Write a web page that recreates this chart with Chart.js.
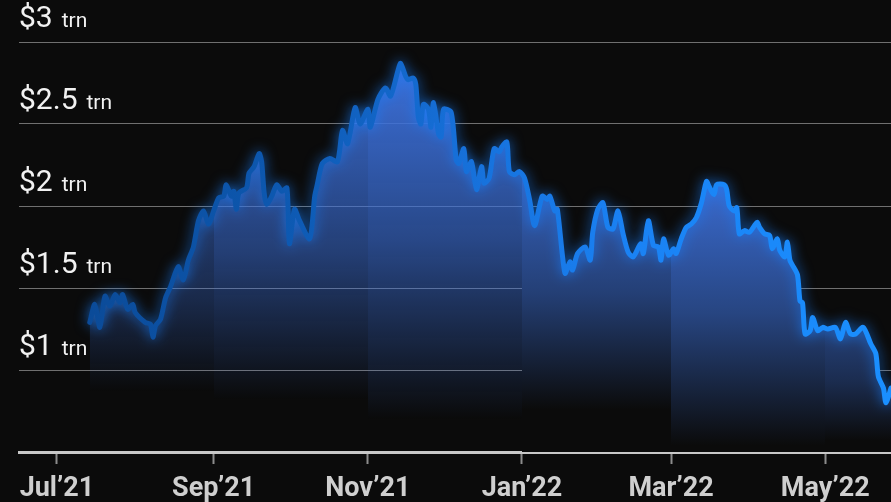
<!DOCTYPE html>
<html>
<head>
<meta charset="utf-8">
<script src="https://cdn.jsdelivr.net/npm/chart.js@4.4.1/dist/chart.umd.min.js"></script>
<style>
  html, body { margin: 0; padding: 0; background: #0b0b0b; }
  #wrap { width: 891px; height: 502px; }
</style>
</head>
<body>
<div id="wrap"><canvas id="cap-chart"></canvas></div>
<script>
"use strict";

// days since 1 Jul 2021
const days = [
  13, 15, 17, 19, 21, 23, 25, 26, 28, 30,
  31, 35, 37, 38, 39, 41, 43, 45, 48, 50,
  52, 54, 56, 58, 60, 62, 64, 66, 67, 69,
  70, 71, 72, 75, 76, 78, 80, 81, 82, 83,
  85, 87, 89, 91, 92, 94, 96, 100, 102, 103,
  105, 108, 111, 113, 115, 118, 120, 123, 124, 127,
  130, 132, 135, 136, 138, 139, 141, 142, 143, 144,
  145, 147, 148, 149, 151, 152, 153, 156, 158, 159,
  161, 162, 164, 166, 168, 169, 171, 173, 175, 176,
  178, 179, 181, 183, 185, 187, 189, 192, 194, 195,
  197, 198, 201, 203, 204, 206, 209, 211, 212, 214,
  216, 218, 220, 222, 224, 226, 228, 231, 232, 234,
  236, 238, 239, 240, 242, 244, 245, 247, 249, 251,
  253, 255, 257, 258, 260, 261, 264, 265, 266, 268,
  269, 270, 272, 274, 277, 278, 280, 282, 283, 285,
  286, 288, 289, 290, 291, 293, 294, 295, 296, 298,
  299, 301, 303, 305, 308, 310, 312, 314, 316, 319,
  322, 324, 325, 327, 328, 330
];

// total market cap, $ trillion
const marketCap = [
  1.29, 1.40, 1.26, 1.45, 1.39, 1.46, 1.41, 1.46, 1.37, 1.40,
  1.35, 1.29, 1.28, 1.20, 1.27, 1.31, 1.44, 1.51, 1.63, 1.55,
  1.67, 1.75, 1.91, 1.97, 1.89, 1.97, 2.05, 2.06, 2.13, 2.06,
  2.09, 1.98, 2.08, 2.11, 2.20, 2.24, 2.32, 2.27, 2.08, 2.01,
  2.06, 2.13, 2.09, 2.11, 1.77, 1.98, 1.91, 1.80, 2.06, 2.13,
  2.26, 2.29, 2.27, 2.46, 2.38, 2.60, 2.50, 2.59, 2.48, 2.65,
  2.72, 2.67, 2.83, 2.87, 2.79, 2.77, 2.78, 2.74, 2.54, 2.50,
  2.62, 2.59, 2.48, 2.63, 2.44, 2.42, 2.59, 2.57, 2.28, 2.26,
  2.35, 2.21, 2.27, 2.10, 2.24, 2.14, 2.17, 2.35, 2.33, 2.36,
  2.39, 2.21, 2.19, 2.21, 2.17, 2.04, 1.88, 2.06, 2.04, 2.06,
  1.97, 1.98, 1.59, 1.66, 1.61, 1.71, 1.75, 1.67, 1.84, 1.98,
  2.02, 1.87, 1.86, 1.97, 1.83, 1.72, 1.69, 1.77, 1.71, 1.91,
  1.76, 1.75, 1.67, 1.80, 1.70, 1.74, 1.71, 1.80, 1.87, 1.89,
  1.93, 2.02, 2.15, 2.12, 2.07, 2.13, 2.13, 2.10, 2.00, 1.97,
  1.99, 1.83, 1.85, 1.84, 1.90, 1.87, 1.83, 1.82, 1.74, 1.80,
  1.73, 1.69, 1.78, 1.67, 1.64, 1.58, 1.42, 1.41, 1.22, 1.24,
  1.32, 1.24, 1.26, 1.25, 1.26, 1.19, 1.29, 1.22, 1.22, 1.26,
  1.16, 1.10, 0.96, 0.89, 0.80, 0.89
];

const monthTicks = [0, 62, 123, 184, 243, 304];
const monthLabels = ["Jul\u201921", "Sep\u201921", "Nov\u201921", "Jan\u201922", "Mar\u201922", "May\u201922"];

const xMin = -15, xMax = 330;
const yMin = 0.5, yMax = 3, yStep = 0.5;

// shading of each two-month band under the line
const bandLook = [
  { alpha: 0.50, fade: 0.87, solid: false },
  { alpha: 0.85, fade: 0.82, solid: false },
  { alpha: 1.00, fade: 0.70, solid: false },
  { alpha: 0.85, fade: 0.76, solid: true },
  { alpha: 0.95, fade: 0.54, solid: true },
  { alpha: 0.55, fade: 0.57, solid: true }
];
const blue = [60, 112, 218];
const bg = [11, 11, 11];
const labelFont = "Roboto";
const labelOffset = -23;

function shade(a, solid) {
  if (!solid) return "rgba(" + blue.join(",") + "," + a + ")";
  const c = blue.map((v, i) => Math.round(bg[i] + (v - bg[i]) * a));
  return "rgb(" + c.join(",") + ")";
}

let fillCache = null;
function bandFill(chart) {
  const area = chart.chartArea;
  if (!area) return "transparent";
  const key = chart.width + "x" + chart.height + ":" + area.left + ":" + area.bottom;
  if (fillCache && fillCache.key === key) return fillCache.pattern;

  const xs = chart.scales.x, ys = chart.scales.y;
  const edges = [xMin].concat(monthTicks.slice(1), [xMax]);
  const off = document.createElement("canvas");
  off.width = chart.width;
  off.height = chart.height;
  const o = off.getContext("2d");

  bandLook.forEach((b, i) => {
    const from = edges[i], to = edges[i + 1];
    const inBand = marketCap.filter((v, k) => days[k] >= from && days[k] <= to);
    const top = Math.max.apply(null, inBand);
    const x0 = Math.round(xs.getPixelForValue(from));
    const x1 = Math.round(xs.getPixelForValue(to));
    const y0 = ys.getPixelForValue(top);
    const y1 = ys.getPixelForValue(b.fade);
    const g = o.createLinearGradient(0, y0, 0, y1);
    g.addColorStop(0, shade(b.alpha, b.solid));
    g.addColorStop(0.5, shade(b.alpha * 0.6, b.solid));
    g.addColorStop(1, shade(0, b.solid));
    o.fillStyle = g;
    o.fillRect(x0, area.top, x1 - x0, area.bottom - area.top);
  });

  const pattern = chart.ctx.createPattern(off, "no-repeat");
  fillCache = { key: key, pattern: pattern };
  return pattern;
}

function lineColor(chart) {
  const area = chart.chartArea;
  if (!area) return "#1a8cff";
  const g = chart.ctx.createLinearGradient(area.left, 0, area.right, 0);
  g.addColorStop(0, "#0a4690");
  g.addColorStop(0.3, "#0d58b0");
  g.addColorStop(0.5, "#166fd8");
  g.addColorStop(0.7, "#1a82f4");
  g.addColorStop(1, "#1a8fff");
  return g;
}

// soft glow around the line (fill is drawn earlier by the filler)
const glow = {
  id: "glow",
  beforeDatasetDraw(chart) {
    const ctx = chart.ctx;
    ctx.save();
    ctx.shadowColor = "rgba(24,128,255,0.8)";
    ctx.shadowBlur = 13;
  },
  afterDatasetDraw(chart) {
    chart.ctx.restore();
  }
};

// small "trn" unit after each y label
const trnSuffix = {
  id: "trnSuffix",
  afterDraw(chart) {
    const ctx = chart.ctx, ys = chart.scales.y;
    ctx.save();
    ys.ticks.forEach((t, i) => {
      if (t.value < 1) return;
      const py = ys.getPixelForTick(i) + labelOffset;
      ctx.font = "30px " + labelFont;
      ctx.textBaseline = "middle";
      const w = ctx.measureText("$" + t.value).width;
      const base = py + ctx.measureText("3").actualBoundingBoxDescent;
      ctx.font = "21px " + labelFont;
      ctx.textBaseline = "alphabetic";
      ctx.textAlign = "left";
      ctx.fillStyle = "#f2f2f2";
      ctx.fillText("trn", chart.chartArea.left + w + 9, base);
    });
    ctx.restore();
  }
};

new Chart(document.getElementById("cap-chart"), {
  type: "line",
  data: {
    datasets: [{
      data: days.map((d, i) => ({ x: d, y: marketCap[i] })),
      borderColor: ctx => lineColor(ctx.chart),
      backgroundColor: ctx => bandFill(ctx.chart),
      fill: "start",
      borderWidth: 5,
      borderJoinStyle: "round",
      borderCapStyle: "round",
      tension: 0.25,
      pointRadius: 0,
      clip: 10
    }]
  },
  options: {
    responsive: true,
    maintainAspectRatio: false,
    animation: false,
    layout: { padding: { top: 42, left: 19, right: 0, bottom: -13 } },
    plugins: {
      legend: { display: false },
      tooltip: { enabled: false }
    },
    scales: {
      x: {
        type: "linear",
        min: xMin,
        max: xMax,
        z: 1,
        afterBuildTicks: axis => { axis.ticks = monthTicks.map(v => ({ value: v })); },
        border: { display: true, color: "#c8c8c8", width: 3 },
        grid: { drawOnChartArea: false, drawTicks: true, tickLength: 12, tickColor: "#8c8c8c", tickWidth: 2 },
        ticks: {
          autoSkip: false,
          maxRotation: 0,
          padding: 12,
          color: "#cfcfcf",
          font: { family: labelFont, size: 27, weight: "bold", lineHeight: 1 },
          callback: (v, i) => monthLabels[i]
        }
      },
      y: {
        min: yMin,
        max: yMax,
        border: { display: false },
        grid: { color: "#707070", lineWidth: 1, drawTicks: false },
        ticks: {
          stepSize: yStep,
          mirror: true,
          padding: 0,
          labelOffset: labelOffset,
          color: "#f2f2f2",
          font: { family: labelFont, size: 30 },
          callback: v => (v >= 1 ? "$" + v : "")
        }
      }
    }
  },
  plugins: [glow, trnSuffix]
});
</script>
</body>
</html>
